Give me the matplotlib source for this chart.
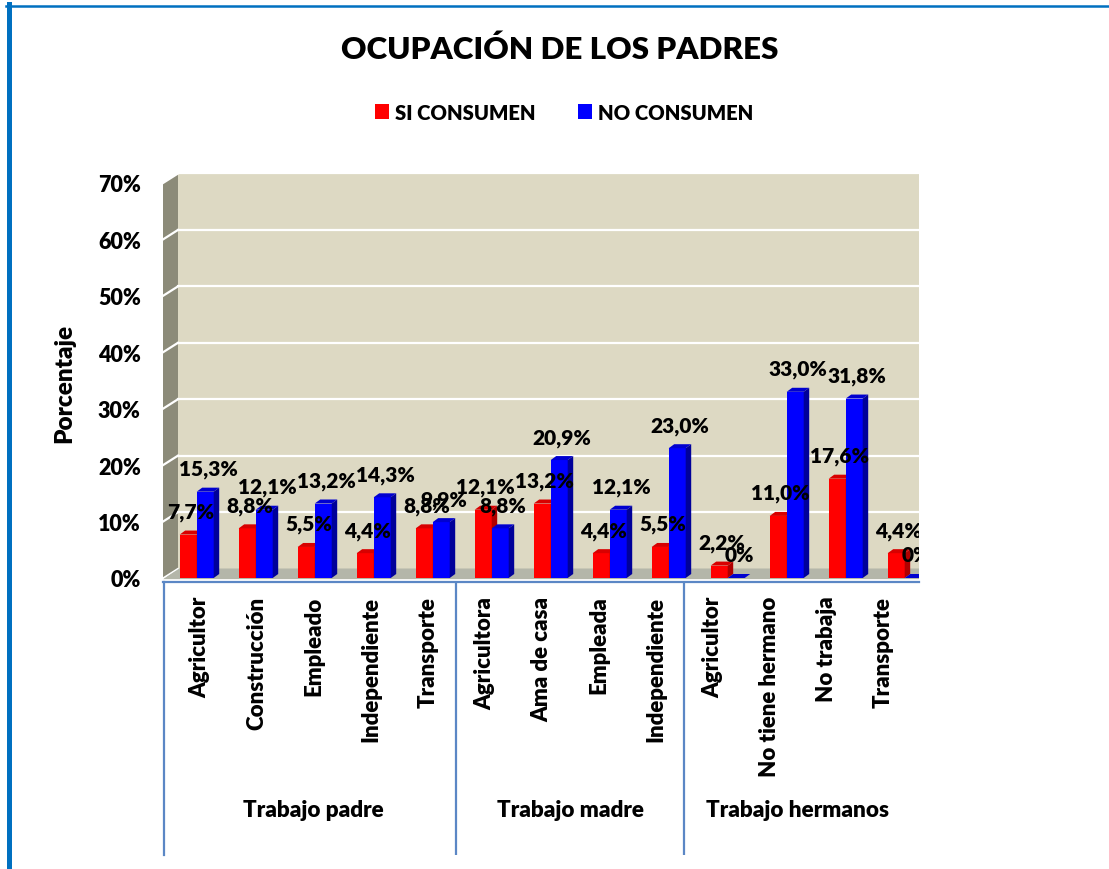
import numpy as np
import matplotlib.pyplot as plt
from matplotlib.patches import Polygon, Patch
from matplotlib.lines import Line2D

plt.rcParams['font.family'] = ['Lato', 'DejaVu Sans']
WEIGHT = 'heavy'

# data
categories = ["Agricultor", "Construcción", "Empleado", "Independiente", "Transporte",
              "Agricultora", "Ama de casa", "Empleada", "Independiente",
              "Agricultor", "No tiene hermano", "No trabaja", "Transporte"]
groups = ["Trabajo padre", "Trabajo madre", "Trabajo hermanos"]
group_sizes = [5, 4, 4]
si_consumen = [7.7, 8.8, 5.5, 4.4, 8.8, 12.1, 13.2, 4.4, 5.5, 2.2, 11.0, 17.6, 4.4]
no_consumen = [15.3, 12.1, 13.2, 14.3, 9.9, 8.8, 20.9, 12.1, 23.0, 0.0, 33.0, 31.8, 0.0]
series_names = ["SI CONSUMEN", "NO CONSUMEN"]
yticks = np.arange(0, 71, 10)

W, H = 1109, 870
fig = plt.figure(figsize=(W / 100, H / 100), dpi=100)

# pixel layout of the 3D plot area
px_left, px_right = 163, 919
px_bottom, px_top = 583, 170
x0_px, x_step = 196.7, 59.0      # category 0 center, spacing
y0_px, y_step = 579.0, 5.643     # value 0, px per percent

xlim = ((px_left - x0_px) / x_step, (px_right - x0_px) / x_step)
ylim = (-(px_bottom - y0_px) / y_step, (y0_px - px_top) / y_step)

ax = fig.add_axes([px_left / W, 1 - px_bottom / H, (px_right - px_left) / W, (px_bottom - px_top) / H])
ax.set_xlim(*xlim)
ax.set_ylim(*ylim)

# depth offsets (data units)
wdx, wdy = 15 / x_step, 9.5 / y_step
bdx, bdy = 5.5 / x_step, 4.0 / y_step

xl, xr = xlim[0], xlim[1]
top = 70

# walls and floor
side = Polygon([(xl, 0), (xl + wdx, wdy), (xl + wdx, top + wdy), (xl, top)],
               closed=True, facecolor='#8C8B79', edgecolor='none', zorder=1)
back = Polygon([(xl + wdx, wdy), (xr + 1, wdy), (xr + 1, top + wdy), (xl + wdx, top + wdy)],
               closed=True, facecolor='#DDD9C3', edgecolor='none', zorder=1)
floor = Polygon([(xl, -0.2), (xl + wdx, wdy), (xr + 1, wdy), (xr + 1, -0.2)],
                closed=True, facecolor='#B4B6A9', edgecolor='none', zorder=1)
for p in (side, back, floor):
    ax.add_patch(p)

for t in yticks[1:]:
    ax.plot([xl + wdx, xr + 1], [t + wdy, t + wdy], color='white', lw=1.6, zorder=2)
    ax.plot([xl, xl + wdx], [t, t + wdy], color='white', lw=1.6, zorder=2)
ax.plot([xl, xl + wdx], [0, wdy], color='white', lw=1.0, zorder=2)


def bar3d(x0, x1, h, front, topc, sidec):
    ax.add_patch(Polygon([(x0, 0), (x1, 0), (x1, h), (x0, h)], facecolor=front, edgecolor='none', zorder=3))
    ax.add_patch(Polygon([(x0, h), (x0 + bdx, h + bdy), (x1 + bdx, h + bdy), (x1, h)],
                         facecolor=topc, edgecolor='none', zorder=3))
    ax.add_patch(Polygon([(x1, 0), (x1 + bdx, bdy), (x1 + bdx, h + bdy), (x1, h)],
                         facecolor=sidec, edgecolor='none', zorder=3))


def fmt(v):
    return "0%" if v == 0 else f"{v:.1f}%".replace('.', ',')


bw = 17 / x_step
x = np.arange(len(categories))
for i in x:
    bar3d(i - bw, i, si_consumen[i], '#FF0000', '#D80000', '#B00000')
for i in x:
    bar3d(i, i + bw, no_consumen[i], '#0000FF', '#0000D0', '#00009A')

lab_off = 23 / y_step
for i in x:
    ax.text(i - bw / 2 + 0.04, si_consumen[i] + lab_off, fmt(si_consumen[i]), ha='center', va='center',
            fontsize=15, fontweight=WEIGHT, zorder=5, clip_on=True)
    ax.text(i + bw / 2 + 0.05, no_consumen[i] + lab_off, fmt(no_consumen[i]), ha='center', va='center',
            fontsize=15, fontweight=WEIGHT, zorder=5, clip_on=True)

ax.set_yticks(yticks)
ax.set_yticklabels([f"{t}%" for t in yticks], fontsize=15.5, fontweight=WEIGHT)
ax.tick_params(axis='y', length=0, pad=16)
ax.set_xticks([])
for s in ('top', 'right', 'left'):
    ax.spines[s].set_visible(False)
ax.spines['bottom'].set_color('#5B87C5')
ax.spines['bottom'].set_linewidth(1.6)
ax.set_ylabel("Porcentaje", fontsize=17.5, fontweight=WEIGHT)
ax.yaxis.set_label_coords(-0.1164, 0.484)

# category axis (multi-level)
lab_left, lab_right, lab_bottom = 164, 919, 856
c0_px, c_step = 199.8, 56.96
ax2 = fig.add_axes([lab_left / W, 1 - lab_bottom / H, (lab_right - lab_left) / W, (lab_bottom - px_bottom) / H])
ax2.set_xlim((lab_left - c0_px) / c_step, (lab_right - c0_px) / c_step)
ax2.set_ylim(0, 1)
ax2.set_facecolor('none')
ax2.set_xticks([])
ax2.set_yticks([])
for s in ('top', 'right', 'bottom'):
    ax2.spines[s].set_visible(False)
ax2.spines['left'].set_color('#5B87C5')
ax2.spines['left'].set_linewidth(1.6)

for i, c in enumerate(categories):
    ax2.text(i, 0.95, c, rotation=90, ha='center', va='top', fontsize=16, fontweight=WEIGHT)

start = 0
for g, n in zip(groups, group_sizes):
    ax2.text(start + (n - 1) / 2, 0.168, g, ha='center', va='center', fontsize=16.2, fontweight=WEIGHT)
    start += n
    if start < len(categories):
        ax2.axvline(start - 0.5, color='#5B87C5', lw=1.6)

# title and legend
fig.text(0.505, 0.9425, "OCUPACIÓN DE LOS PADRES", ha='center', va='center', fontsize=22.6, fontweight=WEIGHT)
handles = [Patch(facecolor='#FF0000', label=series_names[0]), Patch(facecolor='#0000FF', label=series_names[1])]
fig.legend(handles=handles, loc='center', bbox_to_anchor=(0.5086, 0.870), ncol=2, frameon=False,
           prop={'size': 14.6, 'weight': WEIGHT}, handlelength=0.7, handleheight=0.7,
           handletextpad=0.3, columnspacing=2.1)

# outer frame
fig.add_artist(Line2D([8.5 / W, 8.5 / W], [0, 1 - 5 / H], transform=fig.transFigure, color='#0070C0', lw=3.6))
fig.add_artist(Line2D([6 / W, 1], [1 - 7 / H, 1 - 7 / H], transform=fig.transFigure, color='#0070C0', lw=1.8))

fig.savefig("out.png", dpi=100)
